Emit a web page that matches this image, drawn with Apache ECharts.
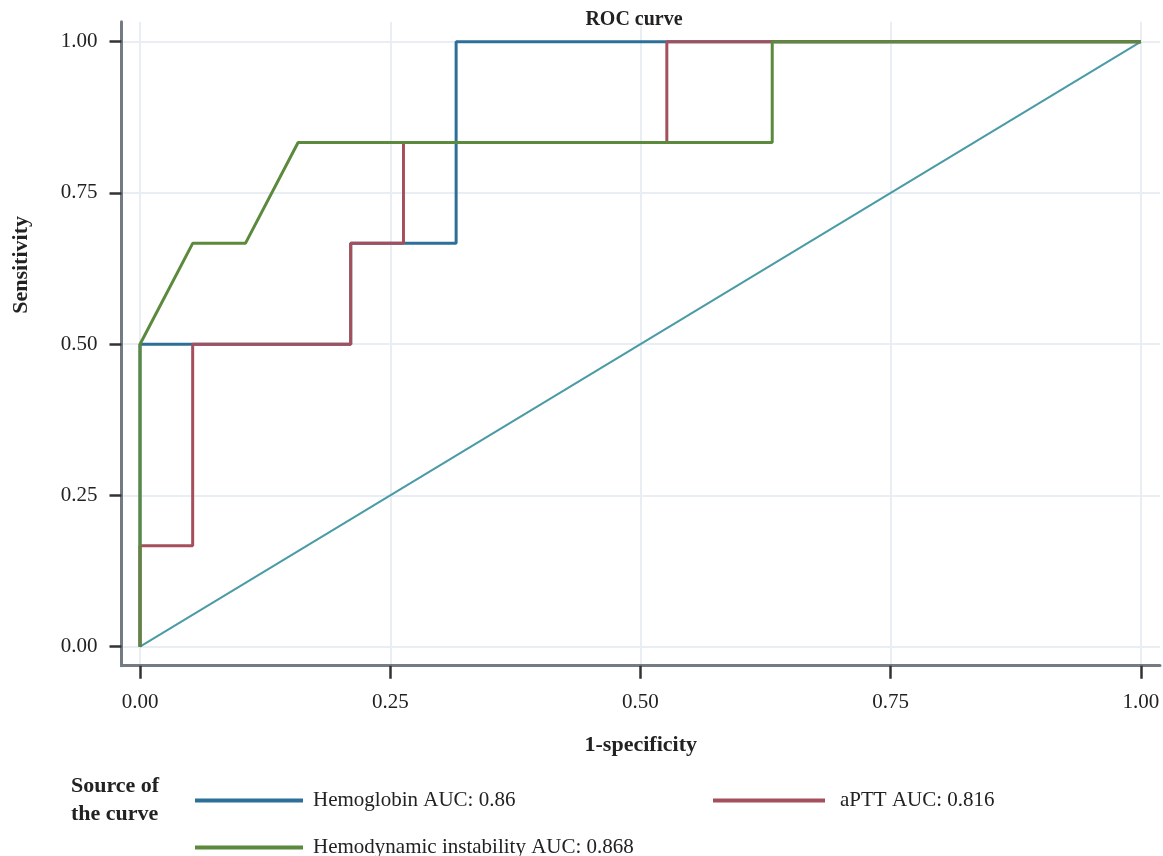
<!DOCTYPE html>
<html>
<head>
<meta charset="utf-8">
<script src="https://cdn.jsdelivr.net/npm/echarts@6/dist/echarts.min.js"></script>
<style>html,body{margin:0;padding:0;background:#fff}#c{width:1163px;height:856px}</style>
</head>
<body>
<div id="c"></div>
<script>
var tickValues = [0, 0.25, 0.5, 0.75, 1];
var hemoglobinX = [0, 0, 0.0526, 0.2105, 0.2105, 0.3158, 0.3158, 1];
var hemoglobinY = [0, 0.5, 0.5, 0.5, 0.6667, 0.6667, 1, 1];
var apttX = [0, 0, 0.0526, 0.0526, 0.2105, 0.2105, 0.2632, 0.2632, 0.5263, 0.5263, 1];
var apttY = [0, 0.1667, 0.1667, 0.5, 0.5, 0.6667, 0.6667, 0.8333, 0.8333, 1, 1];
var hemoX = [0, 0, 0.0526, 0.1053, 0.1579, 0.6316, 0.6316, 1];
var hemoY = [0, 0.5, 0.6667, 0.6667, 0.8333, 0.8333, 1, 1];
var refX = [0, 1];
var refY = [0, 1];
var seriesNames = ['Hemoglobin AUC: 0.86', 'aPTT AUC: 0.816', 'Hemodynamic instability AUC: 0.868'];
var seriesColors = ['#2c6f98', '#a64f5c', '#5b8a3d'];

function pairs(xs, ys) { return xs.map(function (x, i) { return [x, ys[i]]; }); }

var FONT = '"Liberation Serif", "DejaVu Serif", serif';
var chart = echarts.init(document.getElementById('c'));
var lineSeries = [[hemoglobinX, hemoglobinY], [apttX, apttY], [hemoX, hemoY]].map(function (d, i) {
  return {
    name: seriesNames[i], type: 'line', data: pairs(d[0], d[1]),
    showSymbol: false, symbol: 'none', animation: false,
    lineStyle: { color: seriesColors[i], width: 3 }, itemStyle: { color: seriesColors[i] }, z: 3 + i
  };
});
lineSeries.push({
  name: 'Reference', type: 'line', data: pairs(refX, refY), showSymbol: false, symbol: 'none', animation: false,
  lineStyle: { color: '#4a9ba6', width: 2 }, z: 2
});

function legendAt(name, left, top, w, pad) {
  return {
    data: [name], left: left, top: top, icon: 'rect', itemWidth: w, itemHeight: 4, itemGap: 0,
    selectedMode: false,
    textStyle: { fontFamily: FONT, fontSize: 21, color: '#222', padding: [0, 0, 0, pad] }
  };
}

chart.setOption({
  animation: false,
  textStyle: { fontFamily: FONT },
  title: [
    { text: 'ROC curve', left: 629, top: 5, textAlign: 'center',
      textStyle: { fontFamily: FONT, fontSize: 20, fontWeight: 'bold', color: '#222' } },
    { text: 'Source of\nthe curve', left: 66, top: 767,
      textStyle: { fontFamily: FONT, fontSize: 22, fontWeight: 'bold', color: '#222', lineHeight: 28 } }
  ],
  legend: [
    legendAt(seriesNames[0], 190, 785, 108, 5),
    legendAt(seriesNames[1], 708, 785, 112, 10),
    legendAt(seriesNames[2], 190, 832, 108, 5)
  ],
  grid: { left: 121.5, right: 3, top: 21.7, bottom: 190.3, containLabel: false },
  xAxis: {
    type: 'value', min: -0.0185, max: 1.019,
    name: '1-specificity', nameLocation: 'middle', nameGap: 69,
    nameTextStyle: { fontFamily: FONT, fontSize: 22, fontWeight: 'bold', color: '#222' },
    axisLine: { show: true, onZero: false, lineStyle: { color: '#747b82', width: 3 } },
    axisTick: { show: true, customValues: tickValues, length: 13, lineStyle: { color: '#333', width: 2.5 } },
    axisLabel: { customValues: tickValues, margin: 26, fontFamily: FONT, fontSize: 21, color: '#222',
      formatter: function (v) { return v.toFixed(2); } },
    splitLine: { show: true, lineStyle: { color: '#e8eef3', width: 2 } }
  },
  yAxis: {
    type: 'value', min: -0.0314, max: 1.033,
    axisLine: { show: true, onZero: false, lineStyle: { color: '#747b82', width: 3 } },
    axisTick: { show: true, customValues: tickValues, length: 12, lineStyle: { color: '#333', width: 2.5 } },
    axisLabel: { customValues: tickValues, margin: 24, fontFamily: FONT, fontSize: 21, color: '#222',
      formatter: function (v) { return v.toFixed(2); } },
    splitLine: { show: true, lineStyle: { color: '#e8eef3', width: 2 } }
  },
  graphic: [{
    type: 'text', left: 10, top: 216, rotation: Math.PI / 2,
    style: { text: 'Sensitivity', fontFamily: FONT, fontSize: 22, fontWeight: 'bold', fill: '#222' }
  }],
  series: lineSeries
});
</script>
</body>
</html>
